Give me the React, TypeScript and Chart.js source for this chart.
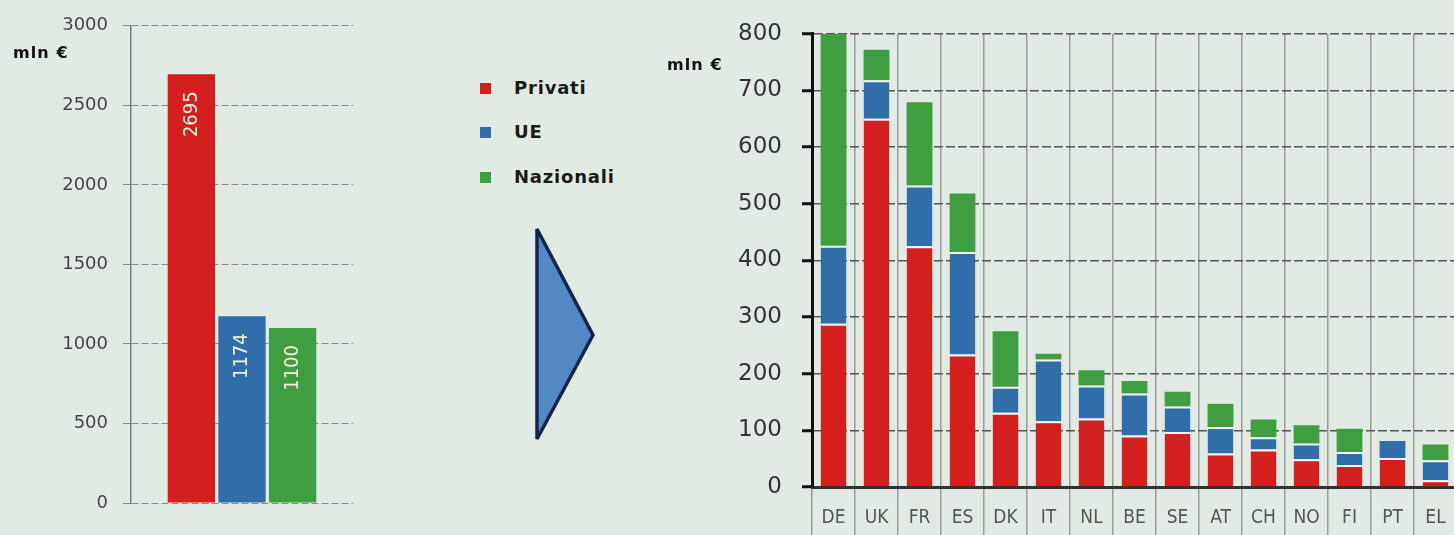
import React, { useEffect, useRef } from "react";
import { Chart, registerables } from "chart.js";
Chart.register(...registerables);

// ---- data ----
const seriesNames = ["Privati", "UE", "Nazionali"];
const seriesColors = ["#d41f1f", "#2f6ea8", "#3f9f40"];
const totalValues = [2695, 1174, 1100];
const totalTicks = [0, 500, 1000, 1500, 2000, 2500, 3000];

const countries = ["DE", "UK", "FR", "ES", "DK", "IT", "NL", "BE", "SE", "AT", "CH", "NO", "FI", "PT", "EL"];
const privati = [288, 650, 425, 234, 131, 116, 121, 91, 97, 59, 66, 49, 39, 51, 12];
const ue = [138, 68, 107, 181, 46, 109, 58, 74, 45, 47, 22, 28, 23, 30, 35];
const nazionali = [374, 54, 147, 103, 98, 10, 27, 22, 26, 41, 31, 32, 41, 0, 28];
const countryTicks = [0, 100, 200, 300, 400, 500, 600, 700, 800];
const unitLabel = "mln €";

const BG = "#e2eae4";

const barLabelPlugin = {
  id: "barLabels",
  afterDatasetsDraw(chart: any) {
    const ctx = chart.ctx;
    chart.data.datasets.forEach((ds: any, i: number) => {
      const meta = chart.getDatasetMeta(i);
      meta.data.forEach((bar: any, j: number) => {
        const v = ds.data[j];
        ctx.save();
        ctx.translate(bar.x, bar.y + 17);
        ctx.rotate(-Math.PI / 2);
        ctx.textAlign = "right";
        ctx.textBaseline = "middle";
        ctx.font = '20px "DejaVu Sans Condensed", "DejaVu Sans"';
        ctx.fillStyle = "#f4f0e4";
        ctx.fillText(String(v), 0, 0);
        ctx.restore();
      });
    });
  },
};

export default function App() {
  const leftRef = useRef<HTMLCanvasElement | null>(null);
  const rightRef = useRef<HTMLCanvasElement | null>(null);

  useEffect(() => {
    const left = new Chart(leftRef.current as HTMLCanvasElement, {
      type: "bar",
      data: {
        labels: ["Totale"],
        datasets: seriesNames.map((n, i) => ({
          label: n,
          data: [totalValues[i]],
          backgroundColor: seriesColors[i],
          categoryPercentage: 0.684,
          barPercentage: 0.935,
        })),
      },
      options: {
        responsive: false,
        animation: false,
        layout: { padding: { left: 0, right: 17, top: 25, bottom: 32 } },
        plugins: { legend: { display: false }, tooltip: { enabled: false } },
        scales: {
          x: { display: false },
          y: {
            min: 0,
            max: 3000,
            afterBuildTicks: (s: any) => {
              s.ticks = totalTicks.map((v) => ({ value: v }));
            },
            afterFit: (s: any) => {
              s.width = 131;
            },
            ticks: {
              color: "#454545",
              padding: 15,
              font: { family: "DejaVu Sans", size: 18 },
              callback: (v: any) => String(v),
            },
            grid: { color: "#8c8c8c", lineWidth: 1, tickLength: 8, tickColor: "#8c8c8c" },
            border: { color: "#7a7a7a", width: 1.5, dash: [7, 3] },
          },
        },
      },
      plugins: [barLabelPlugin],
    } as any);

    const stackData = [privati, ue, nazionali];
    const hasAbove = (di: number, j: number) => {
      for (let k = di + 1; k < stackData.length; k++) if (stackData[k][j] > 0) return true;
      return false;
    };
    const right = new Chart(rightRef.current as HTMLCanvasElement, {
      type: "bar",
      data: {
        labels: countries,
        datasets: seriesNames.map((n, i) => ({
          label: n,
          data: stackData[i],
          backgroundColor: seriesColors[i],
          borderColor: "#f2f6f2",
          borderWidth: (c: any) => ({
            top: hasAbove(c.datasetIndex, c.dataIndex) ? 2 : 0,
            left: 0,
            right: 0,
            bottom: 0,
          }),
          borderSkipped: false,
          categoryPercentage: 1,
          barPercentage: 0.6,
        })),
      },
      options: {
        responsive: false,
        animation: false,
        layout: { padding: { left: 0, right: 13, top: 33, bottom: 0 } },
        plugins: { legend: { display: false }, tooltip: { enabled: false } },
        scales: {
          x: {
            stacked: true,
            afterFit: (s: any) => {
              s.height = 48;
            },
            ticks: {
              color: "#555",
              padding: -28,
              font: { family: "DejaVu Sans Condensed", size: 19 },
            },
            grid: { color: "#9a9a9a", lineWidth: 1.5, tickLength: 48, offset: true, tickColor: "#9a9a9a" },
            border: { color: "#333", width: 3 },
          },
          y: {
            stacked: true,
            min: 0,
            max: 800,
            afterBuildTicks: (s: any) => {
              s.ticks = countryTicks.map((v) => ({ value: v }));
            },
            afterFit: (s: any) => {
              s.width = 162;
            },
            ticks: {
              color: "#333",
              padding: 20,
              font: { family: "DejaVu Sans", size: 23 },
              callback: (v: any) => String(v),
            },
            grid: { color: "#555", lineWidth: 1.5, tickLength: 10, tickColor: "#111", tickWidth: 3 },
            border: { color: "#111", width: 3, dash: [9, 3] },
          },
        },
      },
    } as any);

    return () => {
      left.destroy();
      right.destroy();
    };
  }, []);

  const legendY = [88, 132, 177];
  const unitStyle: React.CSSProperties = {
    position: "absolute",
    fontSize: 16,
    lineHeight: "16px",
    fontWeight: "bold",
    letterSpacing: 1.1,
    color: "#111",
    whiteSpace: "nowrap",
  };

  return (
    <div
      style={{
        position: "fixed",
        left: 0,
        top: 0,
        width: 1454,
        height: 535,
        background: BG,
        overflow: "hidden",
        fontFamily: "DejaVu Sans",
      }}
    >
      <canvas ref={leftRef} width={370} height={535} style={{ position: "absolute", left: 0, top: 0 }} />
      <div style={{ ...unitStyle, left: 13, top: 45 }}>{unitLabel}</div>

      {seriesNames.map((n, i) => (
        <div key={n}>
          <div
            style={{
              position: "absolute",
              left: 480,
              top: legendY[i] - 5.5,
              width: 11,
              height: 11,
              background: seriesColors[i],
            }}
          />
          <div
            style={{
              position: "absolute",
              left: 514,
              top: legendY[i] - 11,
              fontSize: 18,
              lineHeight: "22px",
              fontWeight: "bold",
              letterSpacing: 0.8,
              color: "#1a1a1a",
              whiteSpace: "nowrap",
            }}
          >
            {n}
          </div>
        </div>
      ))}

      <svg
        width={1454}
        height={535}
        style={{ position: "absolute", left: 0, top: 0, pointerEvents: "none" }}
      >
        <polygon
          points="537,229 537,439 593,335"
          fill="#5288c4"
          stroke="#14254d"
          strokeWidth={3.5}
          strokeLinejoin="miter"
        />
      </svg>

      <canvas ref={rightRef} width={820} height={535} style={{ position: "absolute", left: 650, top: 0 }} />
      <div style={{ ...unitStyle, left: 667, top: 57 }}>{unitLabel}</div>
    </div>
  );
}
